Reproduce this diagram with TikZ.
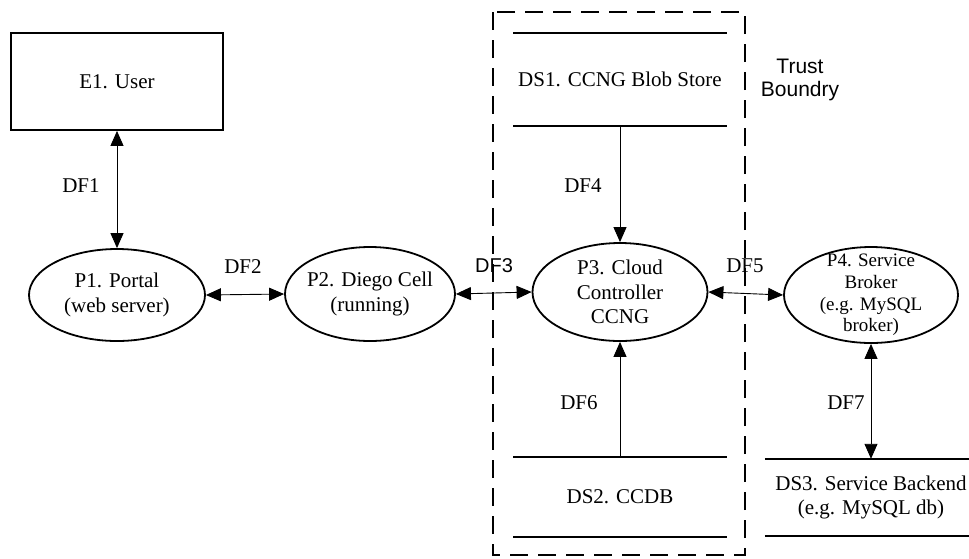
\documentclass[tikz,border=0pt]{standalone}
\usepackage{fontspec}
\setmainfont{Liberation Serif}
\newfontfamily\arialfont{Liberation Sans}
\usetikzlibrary{shapes.geometric, arrows.meta, positioning}

\begin{document}
\begin{tikzpicture}[
  x=1pt, y=-1pt,
  font=\fontsize{21}{24.5}\selectfont,
  entity/.style={rectangle, draw, line width=1.8pt, minimum width=212pt, minimum height=97pt, inner sep=0pt},
  proc/.style={ellipse, draw, line width=1.8pt, inner sep=0pt},
  ptext/.style={align=center},
  store/.style={rectangle, inner sep=0pt, align=center, minimum width=213pt},
  storeline/.style={line width=1.8pt},
  flow/.style={line width=0.9pt, {Triangle[length=15pt,width=13pt]}-{Triangle[length=15pt,width=13pt]}},
  flowin/.style={line width=0.9pt, -{Triangle[length=15pt,width=13pt]}},
  boundary/.style={line width=1.8pt, dash pattern=on 18pt off 10pt}
]
\useasboundingbox[fill=white] (0,0) rectangle (969,558);

% external entity
\node[entity] (e1) at (117,81.5) {E1. User};

% processes
\node[proc, minimum width=176pt, minimum height=92pt,
  label={[ptext]center:P1. Portal\\(web server)}] (p1) at (117,295) {};
\node[proc, minimum width=170pt, minimum height=94pt,
  label={[ptext]center:P2. Diego Cell\\(running)}] (p2) at (370,294) {};
\node[proc, minimum width=175pt, minimum height=98pt,
  label={[ptext]center:P3. Cloud\\Controller\\CCNG}] (p3) at (620,292) {};
\node[proc, minimum width=174pt, minimum height=96pt,
  label={[ptext, font=\fontsize{19}{21.7}\selectfont]center:P4. Service\\Broker\\(e.g. MySQL\\broker)}] (p4) at (871,295) {};

% data stores
\node[store, minimum height=93pt] (ds1) at (620,79.5) {DS1. CCNG Blob Store};
\node[store, minimum height=80pt] (ds2) at (620,497) {DS2. CCDB};
\node[store, minimum width=212pt, minimum height=77pt] (ds3) at (871,497.5) {DS3. Service Backend\\(e.g. MySQL db)};
\draw[storeline] (ds1.north west) -- (ds1.north east) (ds1.south west) -- (ds1.south east);
\draw[storeline] (ds2.north west) -- (ds2.north east) (ds2.south west) -- (ds2.south east);
\draw[storeline] (ds3.north west) -- (ds3.north east) (ds3.south west) -- (ds3.south east);

% trust boundary
\draw[boundary] (493,12) rectangle (745,555);
\node[align=center, font=\arialfont\fontsize{21}{23}\selectfont] (tb) at (800,80) {Trust\\Boundry};

% data flows
\draw[flow] (e1.south) -- (p1.north);
\draw[flow] (p1.east) -- (p2.west);
\draw[flow] (p2.east) -- (p3.west);
\draw[flowin] (ds1.south) -- (p3.north);
\draw[flowin] (ds2.north) -- (p3.south);
\draw[flow] (p3.east) -- (p4.west);
\draw[flow] (p4.south) -- (ds3.north);

\node (df1) at (81,186) {DF1};
\node (df2) at (243,267) {DF2};
\node[font=\arialfont\fontsize{20}{24}\selectfont] (df3) at (494,266) {DF3};
\node (df4) at (583,186) {DF4};
\node (df5) at (745,266) {DF5};
\node (df6) at (579,403) {DF6};
\node (df7) at (846,403) {DF7};
\end{tikzpicture}
\end{document}
